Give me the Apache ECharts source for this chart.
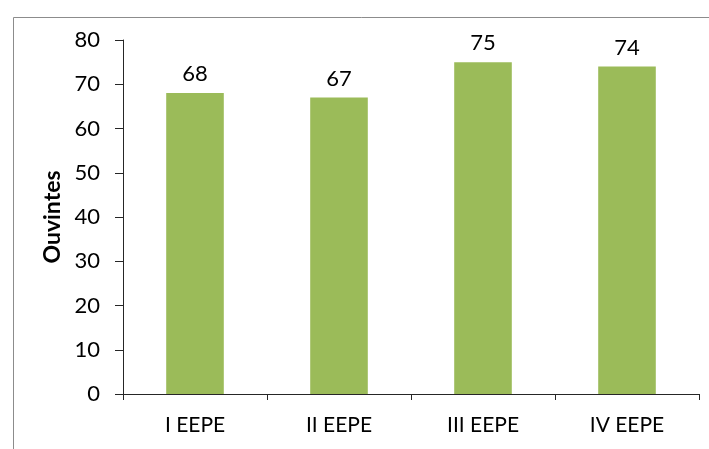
<!DOCTYPE html>
<html>
<head>
<meta charset="utf-8">
<script src="https://cdn.jsdelivr.net/npm/echarts@6/dist/echarts.min.js"></script>
<style>
  html, body { margin: 0; padding: 0; background: #fff; }
  #chart { width: 709px; height: 449px; }
</style>
</head>
<body>
<div id="chart"></div>
<script>
// dados
const categories = ['I EEPE', 'II EEPE', 'III EEPE', 'IV EEPE'];
const ouvintes = [68, 67, 75, 74];
const yTicks = { min: 0, max: 80, interval: 10 };

const chart = echarts.init(document.getElementById('chart'));
const fontFamily = 'Lato, "Open Sans", sans-serif';

chart.setOption({
    animation: false,
    backgroundColor: '#fff',
    graphic: [{
        type: 'rect',
        left: 11,
        top: 15,
        shape: { width: 720, height: 460 },
        style: { fill: 'none', stroke: '#8c8c8c', lineWidth: 1 }
    }],
    grid: { left: 123, right: 10, top: 40, bottom: 55 },
    xAxis: {
        type: 'category',
        data: categories,
        axisLine: { lineStyle: { color: '#262626', width: 1 } },
        axisTick: { show: true, length: 6, lineStyle: { color: '#262626' } },
        axisLabel: { color: '#000', fontSize: 21, fontFamily: fontFamily, margin: 21 }
    },
    yAxis: {
        type: 'value',
        min: yTicks.min,
        max: yTicks.max,
        interval: yTicks.interval,
        name: 'Ouvintes',
        nameLocation: 'middle',
        nameGap: 57,
        nameTextStyle: { color: '#000', fontSize: 23, fontWeight: 'bold', fontFamily: fontFamily },
        splitLine: { show: false },
        axisLine: { show: true, lineStyle: { color: '#262626', width: 1 } },
        axisTick: { show: true, length: 8, lineStyle: { color: '#262626' } },
        axisLabel: { color: '#000', fontSize: 22, fontFamily: fontFamily, margin: 23 }
    },
    series: [{
        type: 'bar',
        data: ouvintes,
        barWidth: '40%',
        itemStyle: { color: '#9BBB59' },
        label: {
            show: true,
            position: 'top',
            distance: 8,
            color: '#000',
            fontSize: 22,
            fontFamily: fontFamily
        }
    }]
});
</script>
</body>
</html>
